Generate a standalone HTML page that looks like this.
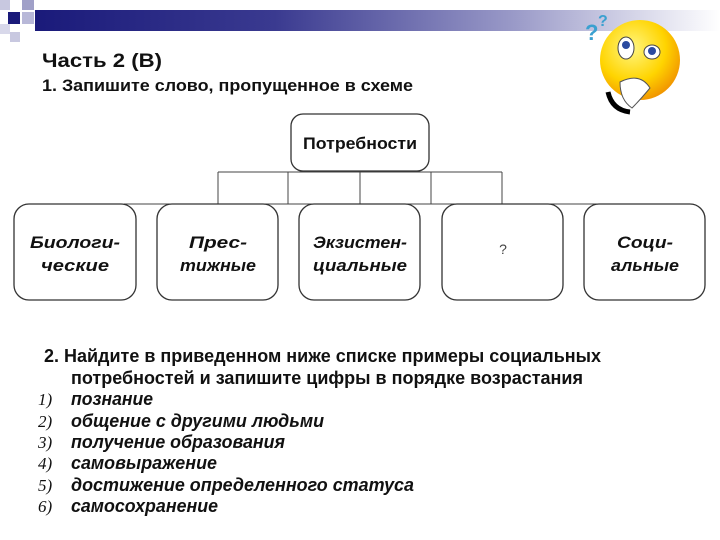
<!DOCTYPE html>
<html><head><meta charset="utf-8"><style>
html,body{margin:0;padding:0;background:#fff;}
svg{display:block;}
text{font-family:"Liberation Sans",sans-serif;}
</style></head><body>
<svg width="720" height="540" viewBox="0 0 720 540" xmlns="http://www.w3.org/2000/svg">
<defs>
<linearGradient id="bar" x1="0" x2="1" y1="0" y2="0">
<stop offset="0" stop-color="#1a1a7a"/><stop offset="0.35" stop-color="#3a3a90"/><stop offset="0.7" stop-color="#9a9ac8"/><stop offset="1" stop-color="#ffffff"/>
</linearGradient>
<radialGradient id="face" cx="0.4" cy="0.35" r="0.7">
<stop offset="0" stop-color="#fff680"/><stop offset="0.6" stop-color="#ffd400"/><stop offset="1" stop-color="#f09000"/>
</radialGradient>
</defs>
<rect x="35" y="10" width="685" height="21" fill="url(#bar)"/>
<rect x="0" y="0" width="10" height="10" fill="#c8c8e0"/>
<rect x="22" y="0" width="12" height="10" fill="#a0a0c8"/>
<rect x="8" y="12" width="12" height="12" fill="#1a1a7a"/>
<rect x="22" y="12" width="12" height="12" fill="#b8b8d8"/>
<rect x="0" y="24" width="10" height="10" fill="#d8d8ea"/>
<rect x="10" y="32" width="10" height="10" fill="#c8c8e0"/>
<circle cx="640" cy="60" r="40" fill="url(#face)"/>
<ellipse cx="626" cy="48" rx="8" ry="11" fill="#fff" stroke="#444"/>
<circle cx="626" cy="45" r="4" fill="#2a4aa0"/>
<ellipse cx="652" cy="52" rx="8" ry="7" fill="#fff" stroke="#444"/>
<circle cx="652" cy="51" r="4" fill="#2a4aa0"/>
<path d="M608 92 Q612 110 630 112" stroke="#000" stroke-width="5" fill="none"/>
<path d="M620 82 Q640 72 650 88 Q640 100 632 108 Q620 100 620 82Z" fill="#fff" stroke="#555"/>
<text x="585" y="40" font-size="22" font-weight="bold" fill="#3aa0d0">?</text>
<text x="598" y="26" font-size="16" font-weight="bold" fill="#3aa0d0">?</text>
<text x="42" y="67" font-size="19" font-weight="bold" fill="#111" textLength="120" lengthAdjust="spacingAndGlyphs">Часть 2 (В)</text>
<text x="42" y="91" font-size="17" font-weight="bold" fill="#111" textLength="371" lengthAdjust="spacingAndGlyphs">1. Запишите слово, пропущенное в схеме</text>
<g stroke="#444" stroke-width="1" fill="none">
<path d="M218 172 H502"/>
<path d="M218 172 V204 M288 172 V204 M360 172 V204 M431 172 V204 M502 172 V204"/>
<path d="M124 204 H598"/>
</g>
<g stroke="#333" stroke-width="1.3" fill="#fff">
<rect x="291" y="114" width="138" height="57" rx="12"/>
<rect x="14" y="204" width="122" height="96" rx="15"/>
<rect x="157" y="204" width="121" height="96" rx="15"/>
<rect x="299" y="204" width="121" height="96" rx="15"/>
<rect x="442" y="204" width="121" height="96" rx="15"/>
<rect x="584" y="204" width="121" height="96" rx="15"/>
</g>
<g font-size="17" font-weight="bold" fill="#111" text-anchor="middle">
<text x="360" y="149" textLength="114" lengthAdjust="spacingAndGlyphs">Потребности</text>
<g font-style="italic">
<text x="75" y="248" textLength="90" lengthAdjust="spacingAndGlyphs">Биологи-</text><text x="75" y="271" textLength="68" lengthAdjust="spacingAndGlyphs">ческие</text>
<text x="218" y="248" textLength="58" lengthAdjust="spacingAndGlyphs">Прес-</text><text x="218" y="271" textLength="76" lengthAdjust="spacingAndGlyphs">тижные</text>
<text x="360" y="248" textLength="94" lengthAdjust="spacingAndGlyphs">Экзистен-</text><text x="360" y="271" textLength="94" lengthAdjust="spacingAndGlyphs">циальные</text>
<text x="645" y="248" textLength="56" lengthAdjust="spacingAndGlyphs">Соци-</text><text x="645" y="271" textLength="68" lengthAdjust="spacingAndGlyphs">альные</text>
</g>
<text x="503" y="254" font-size="14" font-weight="normal" fill="#444">?</text>
</g>
<g font-size="18" font-weight="bold" fill="#111">
<text x="44" y="362" textLength="557" lengthAdjust="spacingAndGlyphs">2. Найдите в приведенном ниже списке примеры социальных</text>
<text x="71" y="384" textLength="512" lengthAdjust="spacingAndGlyphs">потребностей и запишите цифры в порядке возрастания</text>
<g font-style="italic">
<text x="71" y="405" textLength="82" lengthAdjust="spacingAndGlyphs">познание</text>
<text x="71" y="427" textLength="253" lengthAdjust="spacingAndGlyphs">общение с другими людьми</text>
<text x="71" y="448" textLength="214" lengthAdjust="spacingAndGlyphs">получение образования</text>
<text x="71" y="469" textLength="146" lengthAdjust="spacingAndGlyphs">самовыражение</text>
<text x="71" y="491" textLength="343" lengthAdjust="spacingAndGlyphs">достижение определенного статуса</text>
<text x="71" y="512" textLength="147" lengthAdjust="spacingAndGlyphs">самосохранение</text>
</g>
</g>
<g font-size="17" font-style="italic" fill="#111">
<text x="38" y="405" style="font-family:'Liberation Serif',serif">1)</text>
<text x="38" y="427" style="font-family:'Liberation Serif',serif">2)</text>
<text x="38" y="448" style="font-family:'Liberation Serif',serif">3)</text>
<text x="38" y="469" style="font-family:'Liberation Serif',serif">4)</text>
<text x="38" y="491" style="font-family:'Liberation Serif',serif">5)</text>
<text x="38" y="512" style="font-family:'Liberation Serif',serif">6)</text>
</g>
</svg>
</body></html>
